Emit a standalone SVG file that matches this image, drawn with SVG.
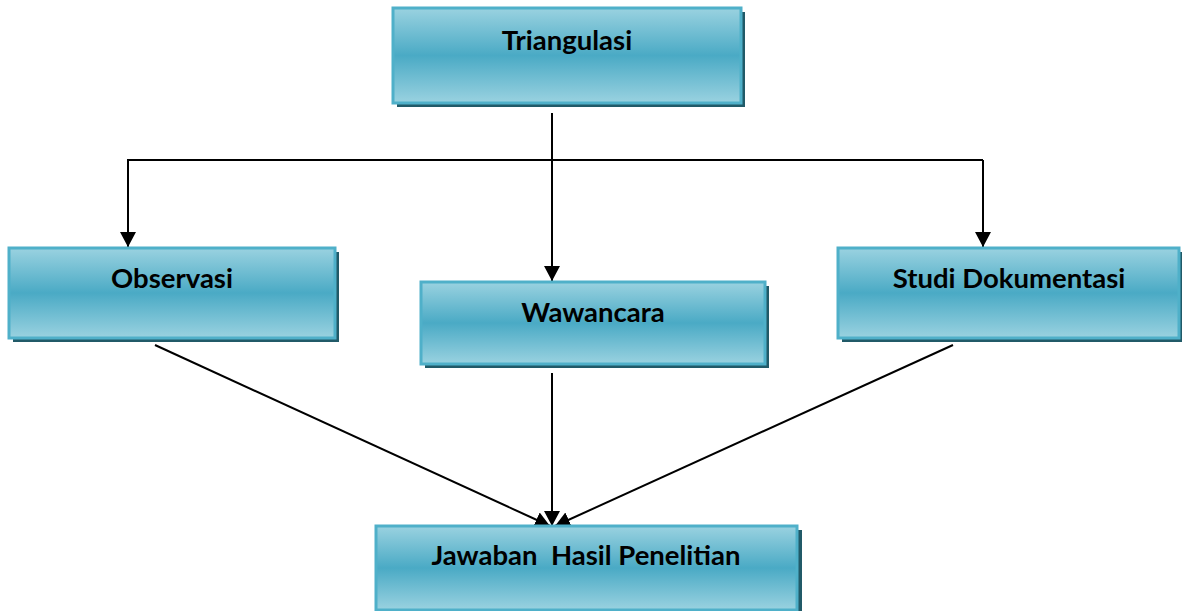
<svg xmlns="http://www.w3.org/2000/svg" width="1182" height="611" viewBox="0 0 1182 611">
<defs>
<linearGradient id="g" x1="0" y1="0" x2="0" y2="1">
<stop offset="0" stop-color="#9ad2e0"/>
<stop offset="0.5" stop-color="#4aaac5"/>
<stop offset="1" stop-color="#9ad2e0"/>
</linearGradient>
<marker id="ah" markerWidth="15" markerHeight="16" viewBox="0 0 15 16" refX="15" refY="8" orient="auto" markerUnits="userSpaceOnUse">
<path d="M0,0 L15,8 L0,16 Z" fill="#000"/>
</marker>
<style>
.sh{fill:#215a68}
.bx{fill:url(#g);stroke:#4fb0c9;stroke-width:3}
.t{font-family:"Lato","Liberation Sans",sans-serif;font-weight:bold;font-size:27.5px;fill:#000;text-anchor:middle;white-space:pre}
.c{stroke:#000;stroke-width:2;fill:none}
</style>
</defs>
<g id="connectors">
<line class="c" x1="552" y1="113" x2="552" y2="281" marker-end="url(#ah)"/>
<polyline class="c" points="983,160 128,160 128,247" marker-end="url(#ah)"/>
<line class="c" x1="983" y1="160" x2="983" y2="247" marker-end="url(#ah)"/>
<line class="c" x1="155" y1="345" x2="550" y2="526" marker-end="url(#ah)"/>
<line class="c" x1="552" y1="373" x2="552" y2="526" marker-end="url(#ah)"/>
<line class="c" x1="953" y1="345" x2="555" y2="526" marker-end="url(#ah)"/>
</g>
<g id="triangulasi">
<rect class="sh" x="397" y="12" width="348" height="95"/>
<rect class="bx" x="393" y="8" width="348" height="95"/>
<text class="t" x="567" y="50">Triangulasi</text>
</g>
<g id="observasi">
<rect class="sh" x="13" y="252" width="326" height="90"/>
<rect class="bx" x="9" y="248" width="326" height="90"/>
<text class="t" x="172" y="288">Observasi</text>
</g>
<g id="wawancara">
<rect class="sh" x="425" y="286" width="344" height="82"/>
<rect class="bx" x="421" y="282" width="344" height="82"/>
<text class="t" x="593" y="322">Wawancara</text>
</g>
<g id="studi">
<rect class="sh" x="842" y="252" width="340" height="90"/>
<rect class="bx" x="838" y="248" width="341" height="90"/>
<text class="t" x="1009" y="288">Studi Dokumentasi</text>
</g>
<g id="jawaban">
<rect class="sh" x="379" y="530" width="423" height="85"/>
<rect class="bx" x="376" y="526" width="421" height="84"/>
<text class="t" x="586" y="565">Jawaban  Hasil Penelitian</text>
</g>
</svg>
